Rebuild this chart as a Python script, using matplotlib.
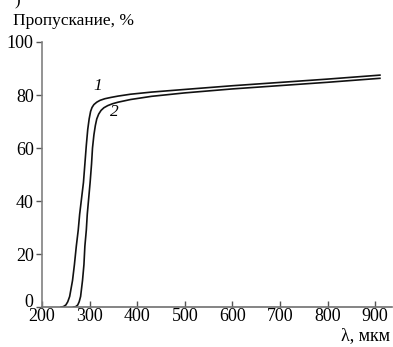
import matplotlib
matplotlib.use("Agg")
import matplotlib.pyplot as plt

plt.rcParams['font.family'] = ['Liberation Serif', 'DejaVu Serif']

# Transmission curves (wavelength, transmission %)
wl_1 = [240, 245, 250, 254, 258, 261, 264, 268, 272, 276, 279, 283, 287, 290,
        293, 296, 299, 302, 305, 309, 315, 322, 332, 345, 360, 386, 430, 500,
        600, 680, 800, 910]
tr_1 = [0, 0.2, 0.8, 2, 4, 7, 10, 16, 23, 29, 35, 41, 47, 54,
        61, 67, 71, 73.8, 75.3, 76.4, 77.3, 78, 78.6, 79.1, 79.6, 80.3, 81.1, 82.1,
        83.5, 84.5, 86, 87.5]

wl_2 = [266, 271, 275, 278, 281, 283, 285, 288, 290, 293, 295, 298, 301, 304,
        306, 309, 312, 315, 319, 324, 330, 338, 348, 360, 386, 430, 500,
        600, 680, 800, 910]
tr_2 = [0, 0.2, 0.8, 2, 4, 7, 10, 16, 23, 29, 35, 41, 47, 54,
        60, 65, 68.5, 71, 72.8, 74.2, 75.2, 76, 76.7, 77.3, 78.3, 79.5, 80.8,
        82.3, 83.3, 84.8, 86.3]

y_ticks = [0, 20, 40, 60, 80, 100]
x_ticks = [200, 300, 400, 500, 600, 700, 800, 900]

fig = plt.figure(figsize=(3.93, 3.47), dpi=100)
ax = fig.add_axes([0.107, 0.115, 0.89, 0.764])

ax.plot(wl_1, tr_1, color='#111111', lw=1.2, solid_joinstyle='round')
ax.plot(wl_2, tr_2, color='#111111', lw=1.2, solid_joinstyle='round')

ax.text(316, 80.5, '1', fontsize=12.5, style='italic', ha='center', va='bottom')
ax.text(351, 70.5, '2', fontsize=12.5, style='italic', ha='center', va='bottom')

ax.set_xlim(200, 935)
ax.set_ylim(0, 100)

ax.spines['top'].set_visible(False)
ax.spines['right'].set_visible(False)
ax.spines['left'].set_color('#808080')
ax.spines['bottom'].set_color('#707070')
ax.spines['left'].set_linewidth(1.2)
ax.spines['bottom'].set_linewidth(1.2)

ax.set_yticks(y_ticks)
ax.set_xticks(x_ticks)
ax.tick_params(axis='y', direction='out', length=4, width=1, color='#555555',
               labelsize=13, pad=2)
ax.tick_params(axis='x', direction='in', length=4, width=1, color='#555555',
               labelsize=13, pad=1)
# the "0" label sits on the x axis line in the original
ax.get_yticklabels()[0].set_verticalalignment('baseline')

fig.text(0.033, 0.94, 'Пропускание, %', fontsize=12.5, ha='left', va='center')
fig.text(0.993, 0.032, 'λ, мкм', fontsize=13, ha='right', va='center')
fig.text(0.045, 0.995, ')', fontsize=12, ha='center', va='center')

fig.savefig('out.png', dpi=100)
